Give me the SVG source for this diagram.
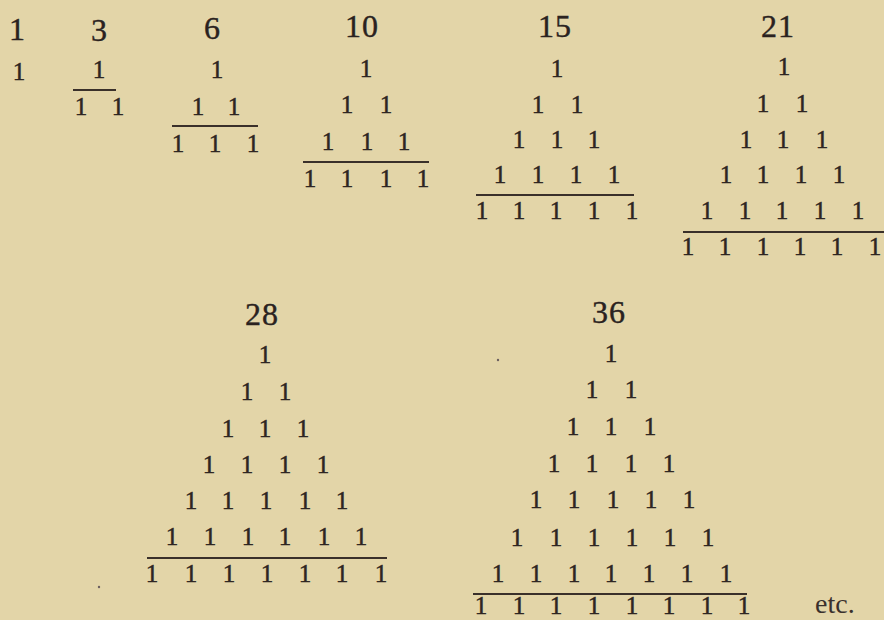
<svg xmlns="http://www.w3.org/2000/svg" width="884" height="620" viewBox="0 0 884 620">
<style>
.h{font-family:"Liberation Serif","Times New Roman",serif;font-size:32px;fill:#2a2220;stroke:#2a2220;stroke-width:0.4;text-anchor:middle}
.o{font-family:"Liberation Serif","Times New Roman",serif;font-size:25px;fill:#2e2522;stroke:#2e2522;stroke-width:0.5;text-anchor:middle}
.e{font-family:"Liberation Serif","Times New Roman",serif;font-size:28px;fill:#3a302c}
.r{stroke:#3a302a;stroke-width:1.8;fill:none}
.s{fill:#6b6060}
</style>
<rect x="0" y="0" width="884" height="620" fill="#e3d5a8"/>
<g id="t1">
<text class="h" x="17" y="40">1</text>
<text class="o" x="19" y="80">1</text>
</g>
<g id="t3">
<text class="h" x="99" y="41">3</text>
<text class="o" x="99" y="78">1</text>
<line class="r" x1="73" y1="90" x2="116" y2="90"/>
<text class="o" x="81" y="115">1</text><text class="o" x="118" y="115">1</text>
</g>
<g id="t6">
<text class="h" x="212" y="39">6</text>
<text class="o" x="217" y="78">1</text>
<text class="o" x="198" y="115">1</text><text class="o" x="234" y="115">1</text>
<line class="r" x1="172" y1="126" x2="258" y2="126"/>
<text class="o" x="178" y="152">1</text><text class="o" x="215" y="152">1</text><text class="o" x="253" y="152">1</text>
</g>
<g id="t10">
<text class="h" x="362" y="37" letter-spacing="1">10</text>
<text class="o" x="366" y="77">1</text>
<text class="o" x="347" y="113">1</text><text class="o" x="386" y="113">1</text>
<text class="o" x="328" y="150">1</text><text class="o" x="367" y="150">1</text><text class="o" x="404" y="150">1</text>
<line class="r" x1="303" y1="162" x2="429" y2="162"/>
<text class="o" x="310" y="187">1</text><text class="o" x="347" y="187">1</text><text class="o" x="386" y="187">1</text><text class="o" x="423" y="187">1</text>
</g>
<g id="t15">
<text class="h" x="555" y="37" letter-spacing="1">15</text>
<text class="o" x="557" y="77">1</text>
<text class="o" x="538" y="113">1</text><text class="o" x="577" y="113">1</text>
<text class="o" x="519" y="148">1</text><text class="o" x="557" y="148">1</text><text class="o" x="594" y="148">1</text>
<text class="o" x="500" y="183">1</text><text class="o" x="538" y="183">1</text><text class="o" x="576" y="183">1</text><text class="o" x="614" y="183">1</text>
<line class="r" x1="476" y1="195" x2="634" y2="195"/>
<text class="o" x="482" y="219">1</text><text class="o" x="519" y="219">1</text><text class="o" x="556" y="219">1</text><text class="o" x="594" y="219">1</text><text class="o" x="632" y="219">1</text>
</g>
<g id="t21">
<text class="h" x="778" y="37" letter-spacing="1">21</text>
<text class="o" x="784" y="75">1</text>
<text class="o" x="763" y="112">1</text><text class="o" x="802" y="112">1</text>
<text class="o" x="746" y="148">1</text><text class="o" x="783" y="148">1</text><text class="o" x="822" y="148">1</text>
<text class="o" x="726" y="183">1</text><text class="o" x="763" y="183">1</text><text class="o" x="801" y="183">1</text><text class="o" x="839" y="183">1</text>
<text class="o" x="707" y="219">1</text><text class="o" x="745" y="219">1</text><text class="o" x="782" y="219">1</text><text class="o" x="820" y="219">1</text><text class="o" x="858" y="219">1</text>
<line class="r" x1="683" y1="232" x2="884" y2="232"/>
<text class="o" x="688" y="255">1</text><text class="o" x="725" y="255">1</text><text class="o" x="763" y="255">1</text><text class="o" x="800" y="255">1</text><text class="o" x="837" y="255">1</text><text class="o" x="875" y="255">1</text>
</g>
<g id="t28">
<text class="h" x="262" y="325" letter-spacing="1">28</text>
<text class="o" x="265" y="363">1</text>
<text class="o" x="247" y="400">1</text><text class="o" x="285" y="400">1</text>
<text class="o" x="228" y="437">1</text><text class="o" x="265" y="437">1</text><text class="o" x="303" y="437">1</text>
<text class="o" x="209" y="473">1</text><text class="o" x="247" y="473">1</text><text class="o" x="285" y="473">1</text><text class="o" x="323" y="473">1</text>
<text class="o" x="191" y="509">1</text><text class="o" x="228" y="509">1</text><text class="o" x="266" y="509">1</text><text class="o" x="305" y="509">1</text><text class="o" x="342" y="509">1</text>
<text class="o" x="172" y="545">1</text><text class="o" x="210" y="545">1</text><text class="o" x="248" y="545">1</text><text class="o" x="285" y="545">1</text><text class="o" x="324" y="545">1</text><text class="o" x="361" y="545">1</text>
<line class="r" x1="147" y1="558" x2="387" y2="558"/>
<text class="o" x="152" y="582">1</text><text class="o" x="191" y="582">1</text><text class="o" x="229" y="582">1</text><text class="o" x="267" y="582">1</text><text class="o" x="305" y="582">1</text><text class="o" x="342" y="582">1</text><text class="o" x="381" y="582">1</text>
</g>
<g id="t36">
<text class="h" x="609" y="323" letter-spacing="1">36</text>
<text class="o" x="611" y="362">1</text>
<text class="o" x="592" y="398">1</text><text class="o" x="631" y="398">1</text>
<text class="o" x="573" y="435">1</text><text class="o" x="611" y="435">1</text><text class="o" x="650" y="435">1</text>
<text class="o" x="554" y="472">1</text><text class="o" x="592" y="472">1</text><text class="o" x="631" y="472">1</text><text class="o" x="669" y="472">1</text>
<text class="o" x="536" y="508">1</text><text class="o" x="574" y="508">1</text><text class="o" x="613" y="508">1</text><text class="o" x="651" y="508">1</text><text class="o" x="689" y="508">1</text>
<text class="o" x="517" y="546">1</text><text class="o" x="556" y="546">1</text><text class="o" x="594" y="546">1</text><text class="o" x="632" y="546">1</text><text class="o" x="670" y="546">1</text><text class="o" x="708" y="546">1</text>
<text class="o" x="498" y="582">1</text><text class="o" x="536" y="582">1</text><text class="o" x="574" y="582">1</text><text class="o" x="611" y="582">1</text><text class="o" x="649" y="582">1</text><text class="o" x="687" y="582">1</text><text class="o" x="726" y="582">1</text>
<line class="r" x1="473" y1="594" x2="747" y2="594"/>
<text class="o" x="481" y="614">1</text><text class="o" x="519" y="614">1</text><text class="o" x="556" y="614">1</text><text class="o" x="594" y="614">1</text><text class="o" x="632" y="614">1</text><text class="o" x="669" y="614">1</text><text class="o" x="707" y="614">1</text><text class="o" x="744" y="614">1</text>
</g>
<g id="etc">
<text class="e" x="815" y="613">etc.</text>
</g>
<circle class="s" cx="498" cy="360" r="1.2"/>
<circle class="s" cx="99" cy="587" r="1.2"/>
</svg>
